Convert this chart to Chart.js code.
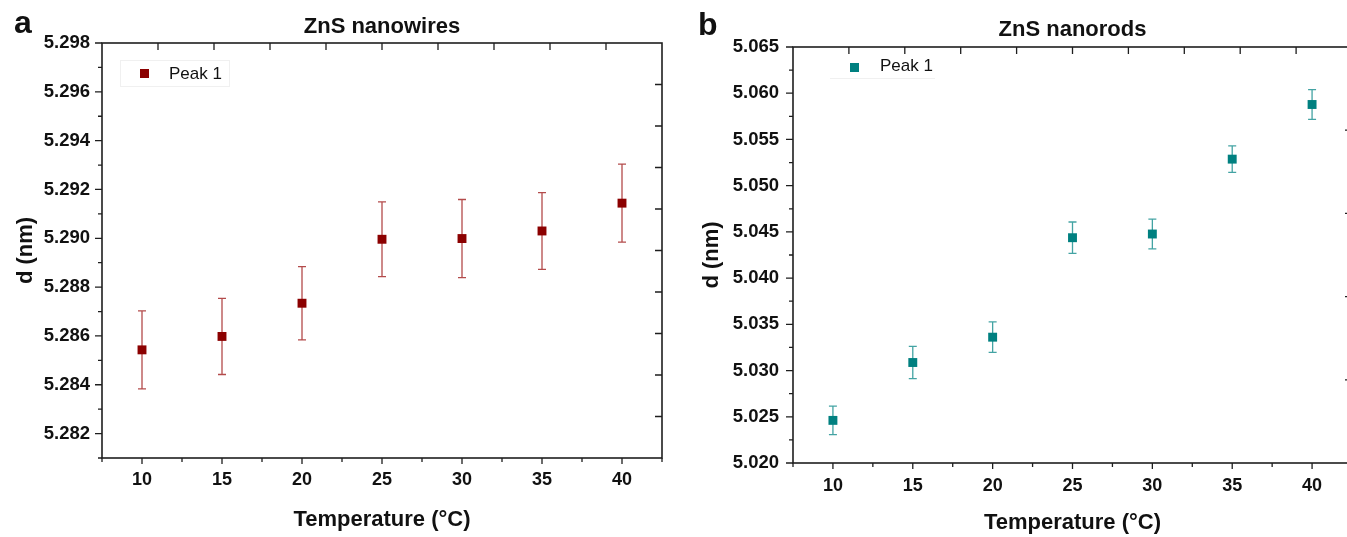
<!DOCTYPE html>
<html>
<head>
<meta charset="utf-8">
<script src="https://cdn.jsdelivr.net/npm/chart.js@4.4.1/dist/chart.umd.min.js"></script>
<style>
    html, body { margin: 0; padding: 0; background: #fff; overflow: hidden; }
    body { width: 1347px; height: 537px; position: relative; font-family: 'Liberation Sans', Arial, sans-serif; }
    canvas { position: absolute; top: 0; }
    #chartA { left: 0; }
    #chartB { left: 680px; }
    .letter { position: absolute; font-size: 32px; line-height: 32px; font-weight: bold; color: #111; }
    .legend { position: absolute; font-size: 17px; line-height: 17px; color: #111; }
    .legend i { position: absolute; width: 9px; height: 9px; }
</style>
</head>
<body>
<canvas id="chartA" width="680" height="537"></canvas>
<canvas id="chartB" width="680" height="537"></canvas>

<div class="letter" style="left:14px; top:6px;">a</div>
<div class="letter" style="left:698px; top:8px;">b</div>

<div style="position:absolute; left:120px; top:60px; width:108px; height:25px; border:1px solid #f0f0f0;"></div>
<div class="legend" style="left:169px; top:65px;"><i style="left:-29px; top:4px; background:#8b0000;"></i>Peak 1</div>
<div style="position:absolute; left:830px; top:78px; width:105px; height:0; border-top:1px solid #f0f0f0;"></div>
<div class="legend" style="left:880px; top:57px;"><i style="left:-30px; top:6px; background:#008080;"></i>Peak 1</div>

<script>
/* ======================================================
   DATA
====================================================== */
const temps = [10, 15, 20, 25, 30, 35, 40];

const wiresD   = [5.28543, 5.28598, 5.28734, 5.28996, 5.28999, 5.29030, 5.29144];
const wiresErr = [0.00160, 0.00156, 0.00150, 0.00153, 0.00160, 0.00157, 0.00160];

const rodsD   = [5.02461, 5.03087, 5.03361, 5.04437, 5.04477, 5.05287, 5.05878];
const rodsErr = [0.00155, 0.00175, 0.00165, 0.00170, 0.00160, 0.00144, 0.00160];

const xTicks    = [10, 15, 20, 25, 30, 35, 40];
const xMinor    = [7.5, 12.5, 17.5, 22.5, 27.5, 32.5, 37.5, 42.5];
const xTopTicks = [11, 14.5, 18, 21.5, 25, 28.5, 32, 35.5, 39];

const wiresYTicks = [5.282, 5.284, 5.286, 5.288, 5.290, 5.292, 5.294, 5.296, 5.298];
const wiresYMinor = [5.281, 5.283, 5.285, 5.287, 5.289, 5.291, 5.293, 5.295, 5.297];
const wiresYRight = [5.2827, 5.2844, 5.2861, 5.2878, 5.2895, 5.2912, 5.2929, 5.2946, 5.2963];

const rodsYTicks = [5.020, 5.025, 5.030, 5.035, 5.040, 5.045, 5.050, 5.055, 5.060, 5.065];
const rodsYMinor = [5.0225, 5.0275, 5.0325, 5.0375, 5.0425, 5.0475, 5.0525, 5.0575, 5.0625];
const rodsYRight = [5.029, 5.038, 5.047, 5.056];

const FONT = "'Liberation Sans', Arial, sans-serif";
const INK = '#111';

/* ======================================================
   PLUGINS
====================================================== */
function errorBarPlugin(color) {
    return {
        id: 'errorBars',
        beforeDatasetsDraw(chart) {
            const { ctx, scales: { x, y } } = chart;
            ctx.save();
            ctx.strokeStyle = color;
            ctx.lineWidth = 1.3;
            ctx.beginPath();
            chart.data.datasets[0].data.forEach(p => {
                const px = x.getPixelForValue(p.x);
                const top = y.getPixelForValue(p.y + p.err);
                const bot = y.getPixelForValue(p.y - p.err);
                ctx.moveTo(px, top); ctx.lineTo(px, bot);
                ctx.moveTo(px - 4, top); ctx.lineTo(px + 4, top);
                ctx.moveTo(px - 4, bot); ctx.lineTo(px + 4, bot);
            });
            ctx.stroke();
            ctx.restore();
        }
    };
}

// box frame + outward ticks (left/bottom) + inward ticks (top/right)
function framePlugin(yMajor, yMinor, yRight) {
    return {
        id: 'frame',
        // centre the title over the plot box, not over the whole canvas
        afterLayout(chart) {
            const t = chart.titleBlock;
            if (!t) return;
            t.left = chart.chartArea.left;
            t.right = chart.chartArea.right;
            t.width = t.right - t.left;
        },
        afterDraw(chart) {
            const { ctx, chartArea: a, scales: { x, y } } = chart;
            ctx.save();
            ctx.strokeStyle = '#1e1e1e';
            ctx.lineWidth = 1.6;
            ctx.strokeRect(a.left, a.top, a.right - a.left, a.bottom - a.top);

            ctx.lineWidth = 1.3;
            ctx.beginPath();
            const xt = (vals, y0, len) => vals.forEach(v => {
                const px = x.getPixelForValue(v);
                ctx.moveTo(px, y0); ctx.lineTo(px, y0 + len);
            });
            const yt = (vals, x0, len) => vals.forEach(v => {
                const py = y.getPixelForValue(v);
                ctx.moveTo(x0, py); ctx.lineTo(x0 + len, py);
            });
            xt(xTicks, a.bottom, 6);
            xt(xMinor, a.bottom, 4);
            xt(xTopTicks, a.top, 7);
            yt(yMajor, a.left, -7);
            yt(yMinor, a.left, -4);
            yt(yRight, a.right, -7);
            ctx.stroke();
            ctx.restore();
        }
    };
}

/* ======================================================
   CHART BUILDER
====================================================== */
function buildChart(id, p) {
    const points = temps.map((t, i) => ({ x: t, y: p.d[i], err: p.err[i] }));

    return new Chart(document.getElementById(id), {
        type: 'scatter',
        data: {
            datasets: [{
                label: 'Peak 1',
                data: points,
                pointStyle: 'rect',
                pointRadius: 6.3,
                pointBorderWidth: 0,
                backgroundColor: p.color,
                borderColor: p.color
            }]
        },
        options: {
            responsive: false,
            animation: false,
            layout: { padding: { left: 0, right: p.padRight, top: 0, bottom: 0 } },
            plugins: {
                legend: { display: false },
                tooltip: { enabled: false },
                title: {
                    display: true,
                    text: p.title,
                    color: INK,
                    font: { family: FONT, size: 22, weight: 'bold', lineHeight: 1.2 },
                    padding: p.titlePad
                }
            },
            scales: {
                x: {
                    type: 'linear',
                    min: 7.5,
                    max: 42.5,
                    afterFit: s => { s.height = p.xHeight; },
                    afterBuildTicks: s => { s.ticks = xTicks.map(v => ({ value: v })); },
                    grid: { display: false, drawTicks: false },
                    border: { display: false },
                    ticks: {
                        autoSkip: false,
                        maxRotation: 0,
                        padding: p.xPad,
                        color: INK,
                        font: { family: FONT, size: 18, weight: 'bold' }
                    },
                    title: {
                        display: true,
                        text: 'Temperature (°C)',
                        color: INK,
                        font: { family: FONT, size: 22, weight: 'bold', lineHeight: 1.2 },
                        padding: { top: 0, bottom: p.xTitlePad }
                    }
                },
                y: {
                    min: p.yMin,
                    max: p.yMax,
                    afterFit: s => { s.width = p.yWidth; },
                    afterBuildTicks: s => { s.ticks = p.yTicks.map(v => ({ value: v })); },
                    grid: { display: false, drawTicks: false },
                    border: { display: false },
                    ticks: {
                        autoSkip: false,
                        padding: p.yPad,
                        color: INK,
                        font: { family: FONT, size: 18.5, weight: 'bold' },
                        callback: v => v.toFixed(3)
                    },
                    title: {
                        display: true,
                        text: 'd (nm)',
                        color: INK,
                        font: { family: FONT, size: 22, weight: 'bold', lineHeight: 1.2 },
                        padding: { top: p.yTitlePad, bottom: 0 }
                    }
                }
            }
        },
        plugins: [errorBarPlugin(p.errColor), framePlugin(p.yTicks, p.yMinor, p.yRight)]
    });
}

/* ======================================================
   INIT
====================================================== */
buildChart('chartA', {
    title: 'ZnS nanowires',
    d: wiresD, err: wiresErr,
    color: '#8b0000', errColor: 'rgba(160,30,30,0.8)',
    yMin: 5.281, yMax: 5.298,
    yTicks: wiresYTicks, yMinor: wiresYMinor, yRight: wiresYRight,
    yWidth: 102, yPad: 12, yTitlePad: 13,
    xHeight: 79, xPad: 11, xTitlePad: 4,
    titlePad: { top: 14, bottom: 2.6 },
    padRight: 18
});

buildChart('chartB', {
    title: 'ZnS nanorods',
    d: rodsD, err: rodsErr,
    color: '#008080', errColor: 'rgba(20,140,140,0.8)',
    yMin: 5.020, yMax: 5.065,
    yTicks: rodsYTicks, yMinor: rodsYMinor, yRight: rodsYRight,
    yWidth: 113, yPad: 14, yTitlePad: 19,
    xHeight: 74, xPad: 12, xTitlePad: 1,
    titlePad: { top: 16.3, bottom: 4.3 },
    padRight: 8
});
</script>
</body>
</html>
